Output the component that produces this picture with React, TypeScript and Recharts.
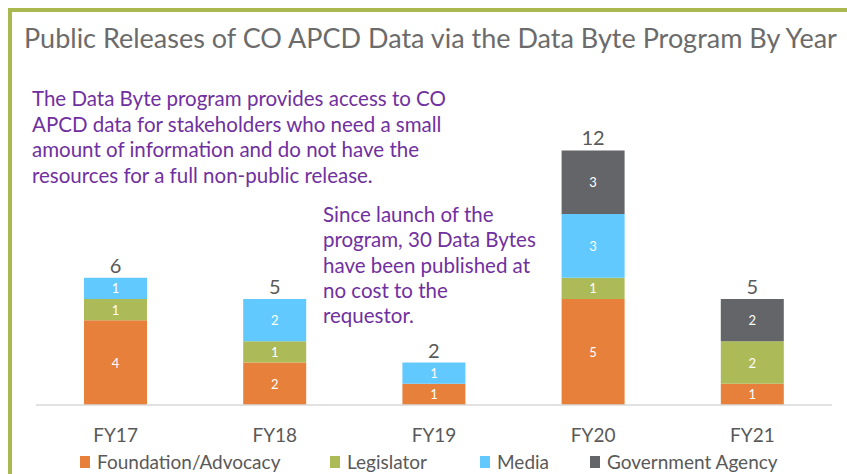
import React from 'react';
import { BarChart, Bar, XAxis, YAxis, LabelList } from 'recharts';

const years = ['FY17', 'FY18', 'FY19', 'FY20', 'FY21'];
const foundation = [4, 2, 1, 5, 1];
const legislator = [1, 1, null, 1, 2];
const media = [1, 2, 1, 3, null];
const government = [null, null, null, 3, 2];

const series = [
  { key: 'foundation', name: 'Foundation/Advocacy', color: '#E6803A', values: foundation },
  { key: 'legislator', name: 'Legislator', color: '#ADBA58', values: legislator },
  { key: 'media', name: 'Media', color: '#62C9FF', values: media },
  { key: 'government', name: 'Government Agency', color: '#646569', values: government },
];

// legend item left edges, px
const legendLeft = [80, 330, 480, 590];

const data = years.map((year, i) => {
  const row: any = { year };
  let total = 0;
  let top = 0;
  series.forEach((s, si) => {
    row[s.key] = s.values[i];
    total += s.values[i] || 0;
    if (s.values[i]) top = si;
  });
  row.total = total;
  row.top = top;
  return row;
});

const FONT = 'Lato, "Noto Sans", sans-serif';
const GRAY = '#595959';
const PURPLE = '#7030A0';

const makeLabel = (si: number) => (props: any) => {
  const { x, y, width, height, value } = props;
  const row = data.find((d) => d.year === value);
  if (!row) return null;
  const v = row[series[si].key];
  if (!v) return null;
  return (
    <g>
      <text
        x={x + width / 2}
        y={y + height / 2}
        fill="#fff"
        fontSize={13}
        fontFamily={FONT}
        textAnchor="middle"
        dominantBaseline="central"
      >
        {v}
      </text>
      {row.top === si && (
        <text
          x={x + width / 2}
          y={y - 5}
          fill={GRAY}
          fontSize={20}
          fontFamily={FONT}
          textAnchor="middle"
        >
          {row.total}
        </text>
      )}
    </g>
  );
};

export default function App() {
  return (
    <div
      style={{
        position: 'relative',
        width: 847,
        height: 474,
        background: '#fff',
        fontFamily: FONT,
        overflow: 'hidden',
      }}
    >
      <style>{`body{margin:0}`}</style>
      <div
        style={{
          position: 'absolute',
          left: 8,
          top: 8,
          right: 0,
          bottom: 0,
          borderLeft: '4px solid #A9B84F',
          borderTop: '4px solid #A9B84F',
        }}
      />
      <div
        style={{
          position: 'absolute',
          left: 24,
          top: 21,
          fontSize: 27,
          color: '#6b6b6b',
          whiteSpace: 'nowrap',
        }}
      >
        Public Releases of CO APCD Data via the Data Byte Program By Year
      </div>
      <div
        style={{
          position: 'absolute',
          left: 32,
          top: 86,
          fontSize: 20.5,
          lineHeight: '25.5px',
          color: PURPLE,
          whiteSpace: 'nowrap',
        }}
      >
        The Data Byte program provides access to CO
        <br />
        APCD data for stakeholders who need a small
        <br />
        amount of information and do not have the
        <br />
        resources for a full non-public release.
      </div>
      <div
        style={{
          position: 'absolute',
          left: 323,
          top: 202,
          fontSize: 20.5,
          lineHeight: '25.3px',
          color: PURPLE,
          whiteSpace: 'nowrap',
        }}
      >
        Since launch of the
        <br />
        program, 30 Data Bytes
        <br />
        have been published at
        <br />
        no cost to the
        <br />
        requestor.
      </div>

      <div style={{ position: 'absolute', left: 0, top: 0 }}>
        <BarChart
          width={847}
          height={474}
          data={data}
          margin={{ top: 108, right: 15, left: 36, bottom: 39 }}
        >
          <XAxis
            dataKey="year"
            height={30}
            axisLine={{ stroke: '#d9d9d9', strokeWidth: 1.5 }}
            tickLine={false}
            tickSize={0}
            tickMargin={24}
            tick={{ fill: GRAY, fontSize: 19, fontFamily: FONT }}
          />
          <YAxis hide domain={[0, 14]} />
          {series.map((s, si) => (
            <Bar
              key={s.key}
              dataKey={s.key}
              stackId="a"
              fill={s.color}
              barSize={63}
              isAnimationActive={false}
            >
              <LabelList dataKey="year" content={makeLabel(si)} />
            </Bar>
          ))}
        </BarChart>
      </div>

      {series.map((s, si) => (
        <div
          key={s.key}
          style={{
            position: 'absolute',
            left: legendLeft[si],
            top: 450,
            display: 'flex',
            alignItems: 'center',
            gap: 7,
            fontSize: 19,
            color: GRAY,
            whiteSpace: 'nowrap',
          }}
        >
          <span style={{ width: 10, height: 12, background: s.color, display: 'inline-block' }} />
          <span>{s.name}</span>
        </div>
      ))}
    </div>
  );
}
